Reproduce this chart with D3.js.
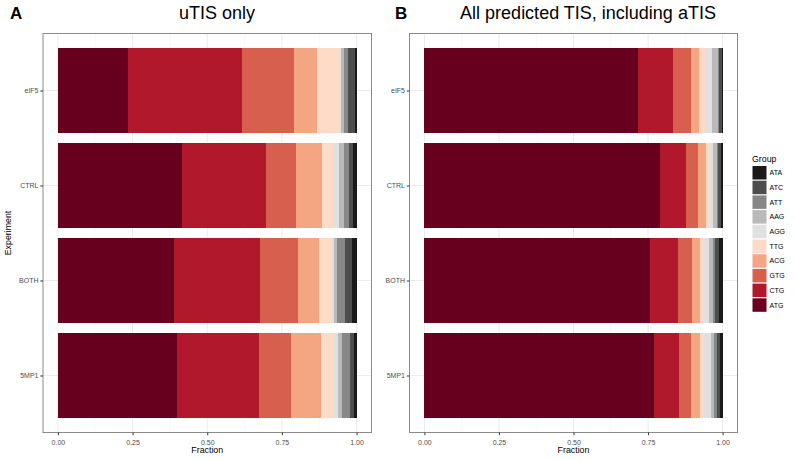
<!DOCTYPE html>
<html>
<head>
<meta charset="utf-8">
<script src="https://cdn.jsdelivr.net/npm/d3@7"></script>
<style>
body{margin:0;background:#fff;}
svg text{font-family:"Liberation Sans",Arial,sans-serif;}
</style>
</head>
<body>
<svg id="chart" width="796" height="460"></svg>
<script>
const experiments = ["eIF5", "CTRL", "BOTH", "5MP1"];
const groups = ["ATG", "CTG", "GTG", "ACG", "TTG", "AGG", "AAG", "ATT", "ATC", "ATA"];
const groupColors = ["#67001F", "#B2182B", "#D6604D", "#F4A582", "#FDDBC7", "#E0E0E0", "#BABABA", "#878787", "#4D4D4D", "#1A1A1A"];
const xTicks = [0, 0.25, 0.5, 0.75, 1];
const xTickLabels = ["0.00", "0.25", "0.50", "0.75", "1.00"];

// fractions per experiment, in order of groups (ATG ... ATA)
const uTIS_eIF5 = [0.235, 0.380, 0.176, 0.077, 0.075, 0.005, 0.011, 0.011, 0.026, 0.004];
const uTIS_CTRL = [0.417, 0.279, 0.102, 0.087, 0.037, 0.019, 0.016, 0.018, 0.012, 0.013];
const uTIS_BOTH = [0.389, 0.288, 0.126, 0.071, 0.040, 0.011, 0.011, 0.026, 0.022, 0.016];
const uTIS_5MP1 = [0.399, 0.273, 0.107, 0.102, 0.044, 0.014, 0.011, 0.028, 0.014, 0.008];

const all_eIF5 = [0.716, 0.118, 0.060, 0.027, 0.021, 0.022, 0.019, 0.006, 0.008, 0.003];
const all_CTRL = [0.790, 0.086, 0.040, 0.030, 0.011, 0.012, 0.011, 0.005, 0.008, 0.007];
const all_BOTH = [0.755, 0.095, 0.047, 0.026, 0.015, 0.017, 0.012, 0.007, 0.014, 0.012];
const all_5MP1 = [0.770, 0.084, 0.040, 0.030, 0.012, 0.024, 0.012, 0.009, 0.009, 0.010];

const panels = [
  {tag: "A", title: "uTIS only", left: 43, right: 371.5, titleX: 217,
   data: {eIF5: uTIS_eIF5, CTRL: uTIS_CTRL, BOTH: uTIS_BOTH, "5MP1": uTIS_5MP1}},
  {tag: "B", title: "All predicted TIS, including aTIS", left: 409.5, right: 737.5, titleX: 588,
   data: {eIF5: all_eIF5, CTRL: all_CTRL, BOTH: all_BOTH, "5MP1": all_5MP1}}
];

const svg = d3.select("#chart");
const panelTop = 33.5, panelBottom = 432.5;
const color = d3.scaleOrdinal().domain(groups).range(groupColors);

const y = d3.scalePoint().domain(experiments).range([panelTop, panelBottom]).padding(0.6);
const barH = y.step() * 0.9;

panels.forEach((p, pi) => {
  const x = d3.scaleLinear().domain([-0.05, 1.05]).range([p.left, p.right]);
  const g = svg.append("g");

  // grid
  const minor = [0.125, 0.375, 0.625, 0.875];
  g.selectAll(".gmin").data(minor).enter().append("line")
    .attr("x1", d => x(d)).attr("x2", d => x(d)).attr("y1", panelTop).attr("y2", panelBottom)
    .attr("stroke", "#F2F2F2").attr("stroke-width", 0.5);
  g.selectAll(".gmaj").data(xTicks).enter().append("line")
    .attr("x1", d => x(d)).attr("x2", d => x(d)).attr("y1", panelTop).attr("y2", panelBottom)
    .attr("stroke", "#EBEBEB").attr("stroke-width", 1);
  g.selectAll(".gy").data(experiments).enter().append("line")
    .attr("x1", p.left).attr("x2", p.right).attr("y1", d => y(d)).attr("y2", d => y(d))
    .attr("stroke", "#EBEBEB").attr("stroke-width", 1);

  // stacked bars
  experiments.forEach(e => {
    const vals = p.data[e];
    let cum = 0;
    vals.forEach((v, i) => {
      const x0 = cum; cum += v;
      g.append("rect")
        .attr("x", x(x0)).attr("width", Math.max(0, x(cum) - x(x0)))
        .attr("y", y(e) - barH / 2).attr("height", barH)
        .attr("fill", color(groups[i]))
        .attr("shape-rendering", "crispEdges");
    });
  });

  // border
  g.append("rect").attr("x", p.left).attr("y", panelTop)
    .attr("width", p.right - p.left).attr("height", panelBottom - panelTop)
    .attr("fill", "none").attr("stroke", "#8a8a8a").attr("stroke-width", 1);

  // x axis
  const xa = g.append("g").attr("transform", `translate(0,${panelBottom})`)
    .call(d3.axisBottom(x).tickValues(xTicks).tickFormat((d, i) => xTickLabels[i]).tickSize(2.7).tickSizeOuter(0));
  xa.select(".domain").remove();
  xa.selectAll("line").attr("stroke", "#333");
  xa.selectAll("text").attr("fill", "#4D4D4D").style("font-size", "7px").attr("dy", "0.9em")
    .style("font-family", "'Liberation Sans',Arial,sans-serif");

  // y axis
  const ya = g.append("g").attr("transform", `translate(${p.left},0)`)
    .call(d3.axisLeft(y).tickSize(2.7).tickSizeOuter(0));
  ya.select(".domain").remove();
  ya.selectAll("line").attr("stroke", "#333");
  ya.selectAll("text").attr("fill", "#4D4D4D").style("font-size", "7px").attr("x", -4.5)
    .style("font-family", "'Liberation Sans',Arial,sans-serif");

  // x title
  svg.append("text").attr("x", (x(0) + x(1)) / 2).attr("y", 453)
    .attr("text-anchor", "middle").style("font-size", "8.8px").attr("fill", "#000").text("Fraction");

  // panel title
  svg.append("text").attr("x", p.titleX).attr("y", 18.5)
    .attr("text-anchor", "middle").style("font-size", "18px").attr("fill", "#000").text(p.title);
  svg.append("text").attr("x", pi === 0 ? 10 : 395).attr("y", 18.5)
    .style("font-size", "17px").style("font-weight", "bold").attr("fill", "#000").text(p.tag);
});

// y title
svg.append("text").attr("transform", `translate(11,${(panelTop + panelBottom) / 2}) rotate(-90)`)
  .attr("text-anchor", "middle").style("font-size", "8.8px").attr("fill", "#000").text("Experiment");

// legend
const legendOrder = groups.slice().reverse();
const lg = svg.append("g");
lg.append("text").attr("x", 752).attr("y", 161.5).style("font-size", "8.8px").attr("fill", "#000").text("Group");
const keyStep = 14.7;
legendOrder.forEach((gname, i) => {
  const ky = 166 + i * keyStep;
  lg.append("rect").attr("x", 752.5).attr("y", ky).attr("width", 14).attr("height", 13.5)
    .attr("fill", color(gname));
  lg.append("text").attr("x", 769.5).attr("y", ky + 6.75).attr("dy", "0.35em")
    .style("font-size", "7px").attr("fill", "#000").text(gname);
});
</script>
</body>
</html>
